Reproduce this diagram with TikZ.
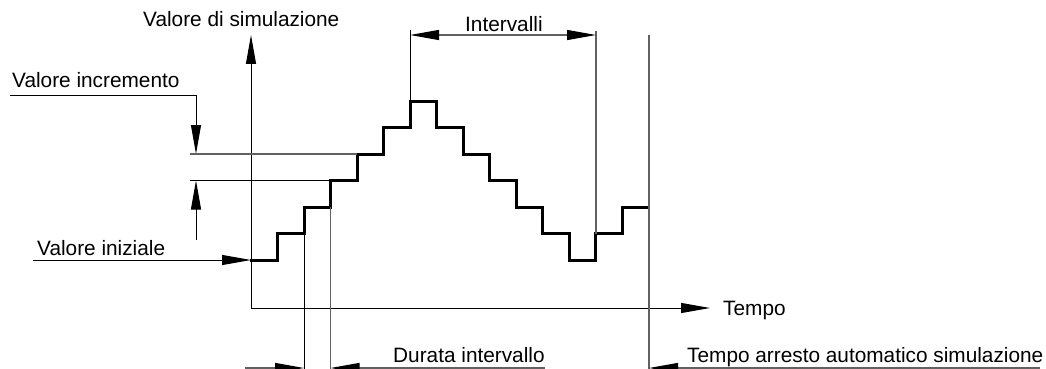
\documentclass[tikz,border=0pt]{standalone}
\usepackage{fontspec}
\setmainfont{Liberation Sans}
\usetikzlibrary{arrows.meta}
\begin{document}
\begin{tikzpicture}[x=1pt,y=-1pt,
  fine/.style={line width=1pt, black},
  greyline/.style={line width=1.2pt, black!62},
  stair/.style={line width=3pt, line join=miter, line cap=rect},
  tipend/.style={-{Triangle[length=29pt,width=10pt,color=black]}},
  tipboth/.style={{Triangle[length=29pt,width=10pt,color=black]}-{Triangle[length=29pt,width=10pt,color=black]}},
  lbl/.style={font=\fontsize{20.8pt}{24pt}\selectfont, inner sep=0pt, anchor=base west}]
\useasboundingbox (0,0) rectangle (1046,369);
% coordinates
\coordinate (ytop) at (251,35);
\coordinate (origin) at (251,308);
\coordinate (xtip) at (710,308);
% axes
\draw[fine,tipend] (origin) -- (ytop);
\draw[fine,tipend] (origin) -- (xtip);
% staircase
\draw[stair] (251,260) -| (277.5,233.5) -| (304,207) -| (330.5,180.5) -| (357,154)
  -| (383.5,127.5) -| (410,101) -| (436.5,127.5) -| (463,154) -| (489.5,180.5)
  -| (516,207) -| (542.5,233.5) -| (569,260) -| (595.5,233.5) -| (622,207) -- (648.5,207);
% labels
\node[lbl] (vsim) at (143,27) {Valore di simulazione};
\node[lbl] (vinc) at (12,88) {Valore incremento};
\node[lbl] (vini) at (37,255) {Valore iniziale};
\node[lbl] (intv) at (465,32) {Intervalli};
\node[lbl] (tempo) at (723,315) {Tempo};
\node[lbl] (durata) at (393,362) {Durata intervallo};
\node[lbl] (arresto) at (687,362) {Tempo arresto automatico simulazione};
% Intervalli
\coordinate (iA0) at (410,30); \coordinate (iA1) at (410,101);
\coordinate (iB0) at (596,31); \coordinate (iB1) at (596,233.5);
\coordinate (iL) at (410,35); \coordinate (iR) at (596,35);
\draw[fine] (iA0) -- (iA1);
\draw[greyline] (iB0) -- (iB1);
\draw[greyline,tipboth] (iL) -- (iR);
% stop line
\coordinate (s0) at (649,35); \coordinate (s1) at (649,372);
\draw[greyline] (s0) -- (s1);
\coordinate (sR) at (1040,368); \coordinate (sT) at (649,368);
\draw[greyline,tipend] (sR) -- (sT);
% Valore incremento
\coordinate (vi0) at (10,95); \coordinate (vi1) at (196,95);
\coordinate (vit) at (196,154); \coordinate (vib) at (196,240); \coordinate (vit2) at (196,180.5);
\draw[fine,tipend] (vi0) -- (vi1) -- (vit);
\draw[fine,tipend] (vib) -- (vit2);
\coordinate (h1a) at (190,154); \coordinate (h1b) at (357,154);
\coordinate (h2a) at (190,180.5); \coordinate (h2b) at (330.5,180.5);
\draw[greyline] (h1a) -- (h1b);
\draw[fine] (h2a) -- (h2b);
% Valore iniziale
\coordinate (vn0) at (33,260); \coordinate (vn1) at (251,260);
\draw[fine,tipend] (vn0) -- (vn1);
% Durata intervallo
\coordinate (d1a) at (304,233.5); \coordinate (d1b) at (304,372);
\coordinate (d2a) at (330.5,207); \coordinate (d2b) at (330.5,372);
\draw[fine] (d1a) -- (d1b);
\draw[greyline] (d2a) -- (d2b);
\coordinate (dl) at (245,368); \coordinate (dt1) at (304,368);
\coordinate (dr) at (545,368); \coordinate (dt2) at (330.5,368);
\draw[greyline,tipend] (dl) -- (dt1);
\draw[greyline,tipend] (dr) -- (dt2);
\end{tikzpicture}
\end{document}
